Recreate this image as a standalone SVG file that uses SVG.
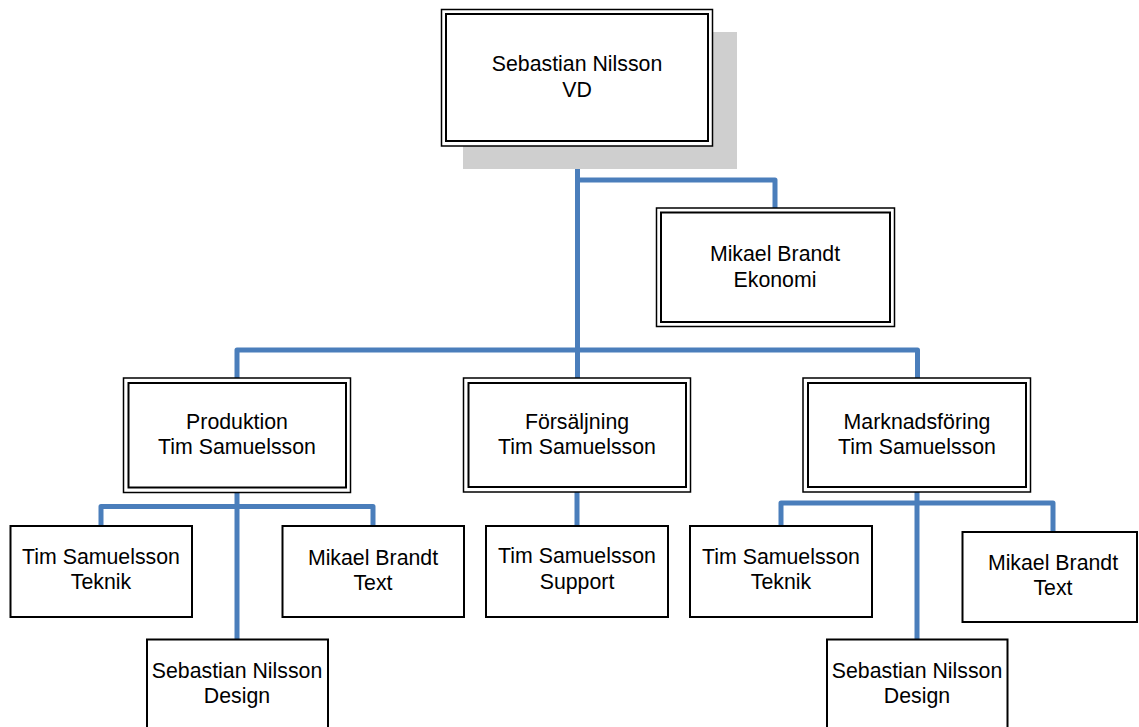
<svg xmlns="http://www.w3.org/2000/svg" width="1139" height="727" viewBox="0 0 1139 727">
<style>
.o{fill:#ffffff;stroke:#000000;stroke-width:1.5}
.i{fill:none;stroke:#000000;stroke-width:2}
.b{fill:#ffffff;stroke:#000000;stroke-width:2}
.t{font-family:"Liberation Sans",Arial,sans-serif;font-size:21.3px;fill:#000000;text-anchor:middle}
.c{fill:none;stroke:#4a7ebb;stroke-width:5;stroke-linejoin:round;stroke-linecap:round}
</style>
<rect width="1139" height="727" fill="#ffffff"/>
<g id="connectors">
<path class="c" d="M577.5 146 V378"/>
<path class="c" d="M577.5 180 H775 V208"/>
<path class="c" d="M237 378 V350 H917.5 V378"/>
<path class="c" d="M237 492 V639"/>
<path class="c" d="M101 526 V506.5 H373 V526"/>
<path class="c" d="M577 492 V526"/>
<path class="c" d="M917 492 V639"/>
<path class="c" d="M781 526 V503 H1053 V532"/>
</g>
<g id="vd">
<rect x="463" y="32" width="274" height="137" fill="#cfcfcf"/>
<rect class="o" x="441.5" y="9.5" width="271" height="136.5"/>
<rect class="i" x="446" y="14" width="262" height="127"/>
<text class="t" x="577" y="71">Sebastian Nilsson</text>
<text class="t" x="577" y="97">VD</text>
</g>
<g id="ekonomi">
<rect class="o" x="656.5" y="208" width="238" height="118.5"/>
<rect class="i" x="661" y="212.5" width="229" height="109.5"/>
<text class="t" x="775" y="261">Mikael Brandt</text>
<text class="t" x="775" y="287">Ekonomi</text>
</g>
<g id="produktion">
<rect class="o" x="123.5" y="378" width="227" height="114.5"/>
<rect class="i" x="128.5" y="383" width="217.5" height="104.5"/>
<text class="t" x="237" y="429">Produktion</text>
<text class="t" x="237" y="454">Tim Samuelsson</text>
</g>
<g id="forsaljning">
<rect class="o" x="463.5" y="378" width="227" height="114"/>
<rect class="i" x="468.5" y="383" width="217.5" height="104"/>
<text class="t" x="577" y="429">Försäljning</text>
<text class="t" x="577" y="454">Tim Samuelsson</text>
</g>
<g id="marknadsforing">
<rect class="o" x="803" y="378" width="227.5" height="114"/>
<rect class="i" x="808" y="383" width="218" height="104"/>
<text class="t" x="917" y="429">Marknadsföring</text>
<text class="t" x="917" y="454">Tim Samuelsson</text>
</g>
<g id="teknik-left">
<rect class="b" x="10.5" y="526" width="181.5" height="91"/>
<text class="t" x="101" y="564">Tim Samuelsson</text>
<text class="t" x="101" y="589">Teknik</text>
</g>
<g id="text-left">
<rect class="b" x="282.5" y="526" width="181.5" height="91"/>
<text class="t" x="373" y="565">Mikael Brandt</text>
<text class="t" x="373" y="590">Text</text>
</g>
<g id="design-left">
<rect class="b" x="147" y="639.5" width="181" height="100"/>
<text class="t" x="237" y="677.5">Sebastian Nilsson</text>
<text class="t" x="237" y="702.5">Design</text>
</g>
<g id="support">
<rect class="b" x="486" y="526" width="182" height="91"/>
<text class="t" x="577" y="563">Tim Samuelsson</text>
<text class="t" x="577" y="589">Support</text>
</g>
<g id="teknik-right">
<rect class="b" x="690" y="526" width="182" height="91"/>
<text class="t" x="781" y="564">Tim Samuelsson</text>
<text class="t" x="781" y="589">Teknik</text>
</g>
<g id="text-right">
<rect class="b" x="962.5" y="532" width="174.5" height="90"/>
<text class="t" x="1053" y="570">Mikael Brandt</text>
<text class="t" x="1053" y="595">Text</text>
</g>
<g id="design-right">
<rect class="b" x="827" y="639.5" width="180.5" height="100"/>
<text class="t" x="917" y="677.5">Sebastian Nilsson</text>
<text class="t" x="917" y="702.5">Design</text>
</g>
</svg>
